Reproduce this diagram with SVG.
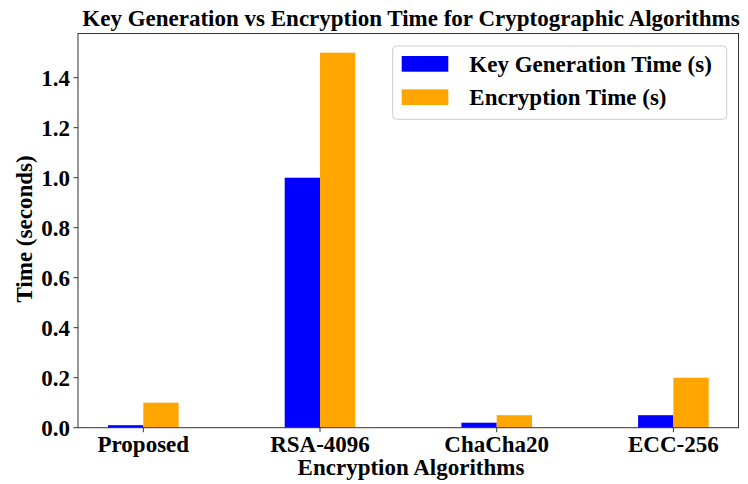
<svg xmlns="http://www.w3.org/2000/svg" width="748" height="484" viewBox="0 0 748 484">
<style>
text{font-family:"Liberation Serif","Times New Roman",serif;font-weight:bold;font-size:23px;fill:#000}
.kg{fill:#0000ff}
.en{fill:#ffa500}
.tick{stroke:#333;stroke-width:1}
.yt{text-anchor:end}
.xt{text-anchor:middle}
</style>
<rect x="0" y="0" width="748" height="484" fill="#fff"/>
<text id="title" x="411" y="26" text-anchor="middle">Key Generation vs Encryption Time for Cryptographic Algorithms</text>
<g id="bars">
<rect class="kg" x="108" y="425.2" width="35.3" height="2.5"/>
<rect class="en" x="143.3" y="402.7" width="35.3" height="25"/>
<rect class="kg" x="284.7" y="177.7" width="35.3" height="250"/>
<rect class="en" x="320" y="52.7" width="35.3" height="375"/>
<rect class="kg" x="461.4" y="422.7" width="35.3" height="5"/>
<rect class="en" x="496.7" y="415.2" width="35.3" height="12.5"/>
<rect class="kg" x="638.1" y="415.2" width="35.3" height="12.5"/>
<rect class="en" x="673.4" y="377.7" width="35.3" height="50"/>
</g>
<g id="axes" fill="none" stroke="#333" stroke-width="1">
<rect x="78" y="33.5" width="660.5" height="394.2"/>
</g>
<g id="yticks">
<line class="tick" x1="73.5" y1="427.7" x2="78" y2="427.7"/>
<line class="tick" x1="73.5" y1="377.7" x2="78" y2="377.7"/>
<line class="tick" x1="73.5" y1="327.7" x2="78" y2="327.7"/>
<line class="tick" x1="73.5" y1="277.7" x2="78" y2="277.7"/>
<line class="tick" x1="73.5" y1="227.7" x2="78" y2="227.7"/>
<line class="tick" x1="73.5" y1="177.7" x2="78" y2="177.7"/>
<line class="tick" x1="73.5" y1="127.7" x2="78" y2="127.7"/>
<line class="tick" x1="73.5" y1="77.7" x2="78" y2="77.7"/>
<text class="yt" x="70" y="435.5">0.0</text>
<text class="yt" x="70" y="385.5">0.2</text>
<text class="yt" x="70" y="335.5">0.4</text>
<text class="yt" x="70" y="285.5">0.6</text>
<text class="yt" x="70" y="235.5">0.8</text>
<text class="yt" x="70" y="185.5">1.0</text>
<text class="yt" x="70" y="135.5">1.2</text>
<text class="yt" x="70" y="85.5">1.4</text>
</g>
<g id="xticks">
<line class="tick" x1="143.3" y1="427.7" x2="143.3" y2="432.2"/>
<line class="tick" x1="320" y1="427.7" x2="320" y2="432.2"/>
<line class="tick" x1="496.7" y1="427.7" x2="496.7" y2="432.2"/>
<line class="tick" x1="673.4" y1="427.7" x2="673.4" y2="432.2"/>
<text class="xt" x="143.3" y="451.7">Proposed</text>
<text class="xt" x="320" y="451.7">RSA-4096</text>
<text class="xt" x="496.7" y="451.7">ChaCha20</text>
<text class="xt" x="673.4" y="451.7">ECC-256</text>
</g>
<text id="xlabel" x="411" y="475" text-anchor="middle">Encryption Algorithms</text>
<text id="ylabel" transform="translate(32,229) rotate(-90)" text-anchor="middle">Time (seconds)</text>
<g id="legend">
<rect x="392.7" y="46" width="334" height="73.3" rx="4" fill="#fff" fill-opacity="0.8" stroke="#cccccc" stroke-width="1"/>
<rect class="kg" x="401.7" y="56" width="46.6" height="15.7"/>
<rect class="en" x="401.7" y="89.3" width="46.6" height="15.7"/>
<text x="469.3" y="72">Key Generation Time (s)</text>
<text x="469.3" y="105">Encryption Time (s)</text>
</g>
</svg>
